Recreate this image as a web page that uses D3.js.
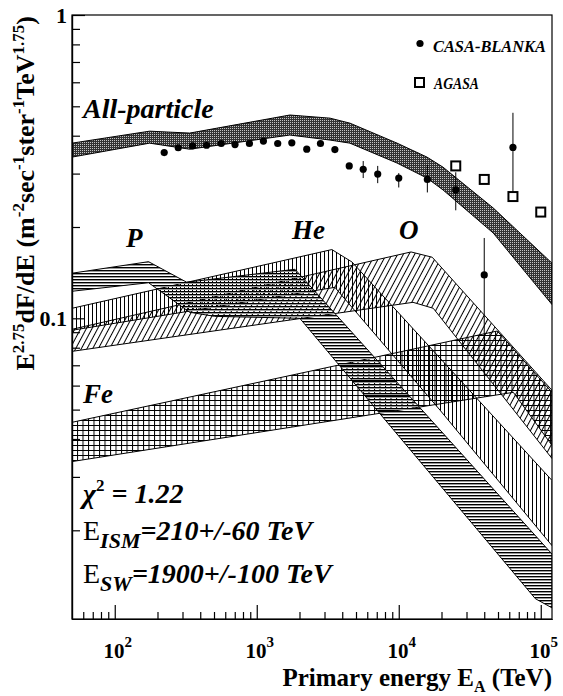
<!DOCTYPE html>
<html><head><meta charset="utf-8">
<script src="https://cdn.jsdelivr.net/npm/d3@7"></script>
<style>body{margin:0;background:#fff}</style>
</head><body><div id="app"></div>
<script>
// values (E in TeV, flux x E^2.75)
var allE  = [50, 176, 337, 1710, 3280, 4530, 9730, 15800, 20500, 46300, 120000];
var allHi = [0.378, 0.414, 0.408, 0.468, 0.457, 0.440, 0.378, 0.340, 0.315, 0.231, 0.152];
var allLo = [0.340, 0.378, 0.361, 0.402, 0.387, 0.378, 0.325, 0.290, 0.265, 0.191, 0.111];

var pHiE = [50, 173, 321, 1860, 120000];
var pHi  = [0.1408, 0.1537, 0.1315, 0.1451, 0.0167];
var pLoE = [50, 173, 337, 505, 2010, 91600, 120000];
var pLo  = [0.1228, 0.1310, 0.1047, 0.1015, 0.1000, 0.0119, 0.0111];

var heHiE = [50, 3380, 4680, 120000];
var heHi  = [0.1079, 0.1685, 0.1534, 0.0292];
var heLoE = [50, 3550, 19600, 120000];
var heLo  = [0.0913, 0.1265, 0.0497, 0.0178];

var oHiE = [50, 12200, 17200, 120000];
var oHi  = [0.0920, 0.1655, 0.1590, 0.0579];
var oLoE = [50, 12600, 17500, 120000];
var oLo  = [0.0778, 0.1129, 0.1079, 0.0345];

var feHiE = [50, 49400, 120000];
var feHi  = [0.0454, 0.0908, 0.0570];
var feLoE = [50, 64100, 120000];
var feLo  = [0.0337, 0.0570, 0.0381];

var casaE  = [223, 280, 353, 443, 562, 703, 888, 1114, 1405, 1766, 2250, 2810, 3550, 4480, 5620, 7110, 10000, 15900, 25200, 40000, 63700];
var casaF  = [0.352, 0.365, 0.370, 0.372, 0.377, 0.374, 0.377, 0.384, 0.377, 0.379, 0.361, 0.377, 0.360, 0.318, 0.310, 0.299, 0.290, 0.287, 0.265, 0.139, 0.366];
var casaUp = [null, null, null, null, null, null, null, null, null, null, null, null, null, null, 0.330, 0.318, 0.301, 0.320, 0.303, 0.184, 0.476];
var casaDn = [null, null, null, null, null, null, null, null, null, null, null, null, null, null, 0.290, 0.279, 0.270, 0.260, 0.227, 0.065, 0.259];

var agasaE = [25200, 40000, 63700, 100000];
var agasaF = [0.318, 0.287, 0.252, 0.224];

var xMajor = [100, 1000, 10000, 100000];
var xExp = ["2", "3", "4", "5"];
var yMajor = [0.1, 1];
var yLabels = ["0.1", "1"];

var W = 563, H = 696;
var L = 72, R = 552, T = 15, B = 619;
var FONT = "Liberation Serif, Times New Roman, Times, serif";

var x = d3.scaleLog().domain([50, 120000]).range([L, R]);
var y = d3.scaleLog().domain([0.0102, 1]).range([B, T]);

var svg = d3.select("#app").append("svg").attr("width", W).attr("height", H)
  .attr("font-family", FONT);
var defs = svg.append("defs");

defs.append("clipPath").attr("id", "clip").append("rect")
  .attr("x", L).attr("y", T).attr("width", R - L).attr("height", B - T);

// fill patterns
var pa = defs.append("pattern").attr("id", "hAll").attr("patternUnits", "userSpaceOnUse").attr("width", 2).attr("height", 2);
pa.append("rect").attr("width", 2).attr("height", 2).attr("fill", "#333");
pa.append("rect").attr("width", 1).attr("height", 1).attr("fill", "#c4c4c4");

var pp = defs.append("pattern").attr("id", "hP").attr("patternUnits", "userSpaceOnUse").attr("width", 6).attr("height", 3);
pp.append("rect").attr("y", 0).attr("width", 6).attr("height", 1).attr("fill", "#000");
pp.append("rect").attr("y", 1).attr("width", 6).attr("height", 1).attr("fill", "#999");

var ph = defs.append("pattern").attr("id", "hHe").attr("patternUnits", "userSpaceOnUse").attr("width", 4).attr("height", 6);
ph.append("rect").attr("width", 1).attr("height", 6).attr("fill", "#000");

var po = defs.append("pattern").attr("id", "hO").attr("patternUnits", "userSpaceOnUse").attr("width", 5).attr("height", 10)
  .attr("patternTransform", "rotate(28)");
po.append("rect").attr("width", 1).attr("height", 10).attr("fill", "#000");

var pf = defs.append("pattern").attr("id", "hFe").attr("patternUnits", "userSpaceOnUse").attr("width", 5.5).attr("height", 5);
pf.append("rect").attr("width", 1).attr("height", 5).attr("fill", "#000");
pf.append("rect").attr("width", 5.5).attr("height", 1).attr("fill", "#000");

function band(eHi, fHi, eLo, fLo) {
  var up = eHi.map(function (e, i) { return [x(e), y(fHi[i])]; });
  var lo = eLo.map(function (e, i) { return [x(e), y(fLo[i])]; }).reverse();
  return d3.line()(up.concat(lo)) + "Z";
}

var plot = svg.append("g").attr("clip-path", "url(#clip)");

var bands = [
  [feHiE, feHi, feLoE, feLo, "hFe"],
  [oHiE, oHi, oLoE, oLo, "hO"],
  [heHiE, heHi, heLoE, heLo, "hHe"],
  [pHiE, pHi, pLoE, pLo, "hP"],
  [allE, allHi, allE, allLo, "hAll"]
];
bands.forEach(function (b) {
  plot.append("path").attr("d", band(b[0], b[1], b[2], b[3]))
    .attr("fill", "url(#" + b[4] + ")").attr("stroke", "#000").attr("stroke-width", 1);
});

// CASA-BLANKA error bars and points
casaE.forEach(function (e, i) {
  if (casaUp[i] != null) {
    plot.append("line").attr("x1", x(e)).attr("x2", x(e))
      .attr("y1", y(casaUp[i])).attr("y2", y(casaDn[i]))
      .attr("stroke", "#000").attr("stroke-width", 1);
  }
});
plot.selectAll("circle.casa").data(casaE).enter().append("circle").attr("class", "casa")
  .attr("cx", function (d) { return x(d); })
  .attr("cy", function (d, i) { return y(casaF[i]); })
  .attr("r", 3.6).attr("fill", "#000");

plot.selectAll("rect.agasa").data(agasaE).enter().append("rect").attr("class", "agasa")
  .attr("x", function (d) { return x(d) - 4.5; })
  .attr("y", function (d, i) { return y(agasaF[i]) - 4.5; })
  .attr("width", 9).attr("height", 9)
  .attr("fill", "#fff").attr("stroke", "#000").attr("stroke-width", 2);

// frame
svg.append("rect").attr("x", L).attr("y", T).attr("width", R - L).attr("height", B - T)
  .attr("fill", "none").attr("stroke", "#000").attr("stroke-width", 1.2);

// axes: ticks point into the frame
var yMinor = y.ticks().filter(function (v) { return yMajor.indexOf(v) < 0; });
var xMinor = x.ticks().filter(function (v) { return xMajor.indexOf(v) < 0 && v > 50; });

svg.append("g").attr("transform", "translate(" + L + ",0)")
  .call(d3.axisRight(y).tickValues(yMinor).tickSize(8).tickSizeOuter(0).tickFormat(""));
svg.append("g").attr("transform", "translate(" + L + ",0)")
  .call(d3.axisRight(y).tickValues(yMajor).tickSize(13).tickSizeOuter(0).tickFormat(""));
svg.append("g").attr("transform", "translate(0," + B + ")")
  .call(d3.axisTop(x).tickValues(xMinor).tickSize(7).tickSizeOuter(0).tickFormat(""));
svg.append("g").attr("transform", "translate(0," + B + ")")
  .call(d3.axisTop(x).tickValues(xMajor).tickSize(14).tickSizeOuter(0).tickFormat(""));
svg.selectAll(".domain, .tick line").attr("stroke", "#000").attr("stroke-width", 1.2);

// tick labels
yMajor.forEach(function (v, i) {
  svg.append("text").attr("x", L - 5).attr("y", y(v) + 8).attr("text-anchor", "end")
    .attr("font-size", 22).attr("font-weight", "bold").text(yLabels[i]);
});
xMajor.forEach(function (v, i) {
  var t = svg.append("text").attr("x", x(v) + 3).attr("y", 658).attr("text-anchor", "middle")
    .attr("font-size", 21).attr("font-weight", "bold");
  t.append("tspan").text("10");
  t.append("tspan").attr("dy", -11).attr("font-size", 15).text(xExp[i]);
});

// axis titles
var xt = svg.append("text").attr("x", R).attr("y", 686).attr("text-anchor", "end")
  .attr("font-size", 25).attr("font-weight", "bold");
xt.append("tspan").text("Primary energy E");
xt.append("tspan").attr("dy", 6).attr("font-size", 16).text("A");
xt.append("tspan").attr("dy", -6).text(" (TeV)");

var yt = svg.append("text").attr("transform", "translate(34,16) rotate(-90)").attr("text-anchor", "end")
  .attr("font-size", 26).attr("font-weight", "bold");
var ytParts = [["E", 0], ["2.75", 1], ["dF/dE (m", 0], ["-2", 1], ["sec", 0], ["-1", 1], ["ster", 0], ["-1", 1], ["TeV", 0], ["1.75", 1], [")", 0]];
var prev = 0;
ytParts.forEach(function (p) {
  var s = yt.append("tspan").text(p[0]);
  var off = p[1] ? -10 : 0;
  s.attr("dy", off - prev);
  if (p[1]) s.attr("font-size", 17);
  prev = off;
});

// in-plot labels
function bi(xp, yp, size, str) {
  return svg.append("text").attr("x", xp).attr("y", yp).attr("font-size", size)
    .attr("font-weight", "bold").attr("font-style", "italic").text(str);
}
bi(83, 118, 28, "All-particle");
bi(126, 247, 27, "P");
bi(292, 239, 27, "He");
bi(399, 239, 27, "O");
bi(83, 403, 27, "Fe");

// legend
svg.append("circle").attr("cx", 420).attr("cy", 43.5).attr("r", 3.6).attr("fill", "#000");
bi(433, 52, 16, "CASA-BLANKA").attr("textLength", 113).attr("lengthAdjust", "spacingAndGlyphs");
svg.append("rect").attr("x", 415).attr("y", 78).attr("width", 9).attr("height", 9)
  .attr("fill", "#fff").attr("stroke", "#000").attr("stroke-width", 2);
bi(434, 89, 16, "AGASA").attr("textLength", 45).attr("lengthAdjust", "spacingAndGlyphs");

// fit summary
var c = svg.append("text").attr("x", 83).attr("y", 503).attr("font-size", 28)
  .attr("font-weight", "bold").attr("font-style", "italic");
c.append("tspan").text("\u03c7");
c.append("tspan").attr("dy", -12).attr("font-size", 17).attr("font-style", "normal").text("2");
c.append("tspan").attr("dy", 12).text(" = 1.22");

function eLine(yp, sub, rest) {
  var t = svg.append("text").attr("x", 83).attr("y", yp).attr("font-size", 28);
  t.append("tspan").text("E");
  t.append("tspan").attr("dy", 8).attr("font-size", 22).attr("font-weight", "bold").attr("font-style", "italic").text(sub);
  t.append("tspan").attr("dy", -8).attr("font-weight", "bold").attr("font-style", "italic").text(rest);
}
eLine(540, "ISM", "=210+/-60 TeV");
eLine(583, "SW", "=1900+/-100 TeV");
</script>
</body></html>
